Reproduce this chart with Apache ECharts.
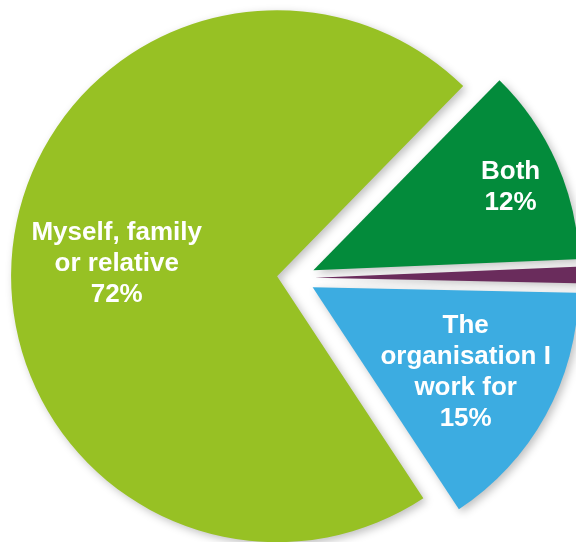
<!DOCTYPE html>
<html>
<head>
<meta charset="utf-8">
<style>
  html, body { margin: 0; padding: 0; background: #fff; }
  #main { width: 576px; height: 542px; }
</style>
<script src="https://cdn.jsdelivr.net/npm/echarts@6/dist/echarts.min.js"></script>
</head>
<body>
<div id="main"></div>
<script>
// slices in clockwise order, starting at the upper right
const categories = ['Both', 'Other', 'The organisation I work for', 'Myself, family or relative']
const labelNames = ['Both', '', 'The\norganisation I\nwork for', 'Myself, family\nor relative']
const values = [12, 1, 15.4, 71.6]
const colors = ['#038b3b', '#6a2c5c', '#3cace1', '#97c124']

// label nudges away from the default inside spot
const labelShift = [[73, -28], [0, 0], [34, 19], [-25, 1]]

const chart = echarts.init(document.getElementById('main'))

chart.setOption({
    animation: false,
    series: [
        {
            type: 'pie',
            center: [296, 278],
            radius: 266,
            startAngle: 45.6,
            clockwise: true,
            selectedMode: 'multiple',
            selectedOffset: 19,
            avoidLabelOverlap: false,
            itemStyle: {
                shadowBlur: 8,
                shadowOffsetX: 3,
                shadowOffsetY: 3,
                shadowColor: 'rgba(0, 0, 0, 0.25)'
            },
            label: {
                show: true,
                position: 'inside',
                color: '#fff',
                fontFamily: '"Liberation Sans", Arial, sans-serif',
                fontWeight: 'bold',
                fontSize: 26,
                lineHeight: 31,
                align: 'center',
                formatter: (p) => labelNames[p.dataIndex] ? labelNames[p.dataIndex] + '\n' + Math.round(p.percent) + '%' : ''
            },
            labelLine: { show: false },
            labelLayout: (p) => ({ dx: labelShift[p.dataIndex][0], dy: labelShift[p.dataIndex][1] }),
            emphasis: { disabled: true },
            data: categories.map((name, i) => ({
                name: name,
                value: values[i],
                selected: true,
                itemStyle: { color: colors[i] },
                select: { itemStyle: { color: colors[i], borderWidth: 0 } }
            }))
        }
    ]
})

window.addEventListener('resize', () => {
    chart.resize()
})
</script>
</body>
</html>
